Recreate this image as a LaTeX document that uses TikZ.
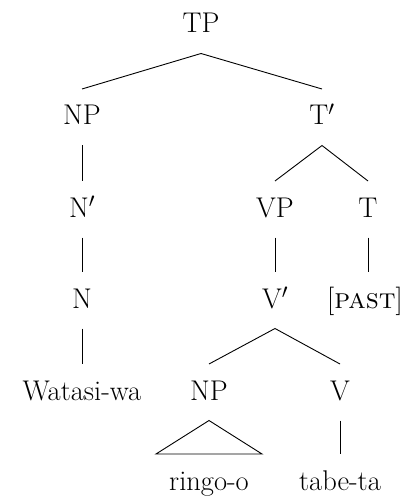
\documentclass[tikz,border=0pt]{standalone}
\begin{document}
\begin{tikzpicture}[x=1pt,y=-1pt,
  lab/.style={font=\fontsize{28.5}{34}\selectfont, inner xsep=0pt, inner ysep=0pt,
    text height=18.5pt, text depth=3pt, outer ysep=17.5pt, anchor=base},
  edge/.style={line width=0.9pt, black}]
\useasboundingbox (0,0) rectangle (406,497);
\node[lab] (tp) at (201,33) {TP};
\node[lab] (np) at (82,125) {NP};
\node[lab] (tbar) at (322,125) {T$'$};
\node[lab] (nbar) at (82,217) {N$'$};
\node[lab] (vp) at (275,217) {VP};
\node[lab] (t) at (368,217) {T};
\node[lab] (n) at (82,308) {N};
\node[lab] (vbar) at (275,308) {V$'$};
\node[lab] (past) at (365,308) {[\textsc{past}]};
\node[lab] (wa) at (82,400) {Watasi-wa};
\node[lab] (np2) at (209,400) {NP};
\node[lab] (v) at (340,400) {V};
\node[lab, inner xsep=13pt] (ringo) at (209,490) {ringo-o};
\node[lab] (tabe) at (340,490) {tabe-ta};
\draw[edge] (np.north) -- (tp.south) -- (tbar.north);
\draw[edge] (np.south) -- (nbar.north);
\draw[edge] (nbar.south) -- (n.north);
\draw[edge] (n.south) -- (wa.north);
\draw[edge] (vp.north) -- (tbar.south) -- (t.north);
\draw[edge] (vp.south) -- (vbar.north);
\draw[edge] (t.south) -- (t.south |- past.north);
\draw[edge] (np2.north) -- (vbar.south) -- (v.north);
\draw[edge] (np2.south) -- (ringo.north west) -- (ringo.north east) -- cycle;
\draw[edge] (v.south) -- (tabe.north);
\end{tikzpicture}
\end{document}
